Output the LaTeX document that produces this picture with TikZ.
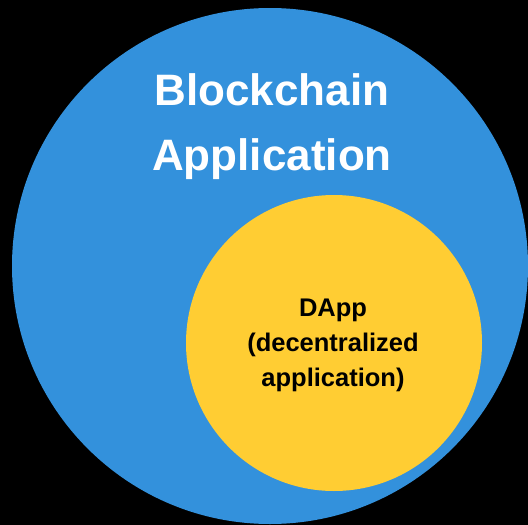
\documentclass[tikz,border=0pt]{standalone}
\usepackage{fontspec}
\setmainfont{Liberation Sans}
\usetikzlibrary{positioning}

\definecolor{chainblue}{RGB}{51,145,220}
\definecolor{dappyellow}{RGB}{255,205,51}

\begin{document}
\begin{tikzpicture}[
      x=1pt, y=-1pt,
      disc/.style={circle,inner sep=0pt},
      outerlabel/.style={align=center,text=white,font={\fontsize{44}{65}\selectfont\bfseries}},
      innerlabel/.style={align=center,text=black,font={\fontsize{25.5}{35}\selectfont\bfseries}}
    ]
    % Background and frame
    \fill[black] (0,0) rectangle (528,525);
    \useasboundingbox (0,0) rectangle (528,525);

    % Circles
    \node[disc,fill=chainblue,minimum size=516pt] (chain) at (270,266) {};
    \node[disc,fill=dappyellow,minimum size=296pt] (dapp) at (334,343) {};

    % Labels
    \node[outerlabel] (chainlbl) at (272,127) {Blockchain\\Application};
    \node[innerlabel] (dapplbl) at (333,345) {DApp\\(decentralized\\application)};

  \end{tikzpicture}
\end{document}
